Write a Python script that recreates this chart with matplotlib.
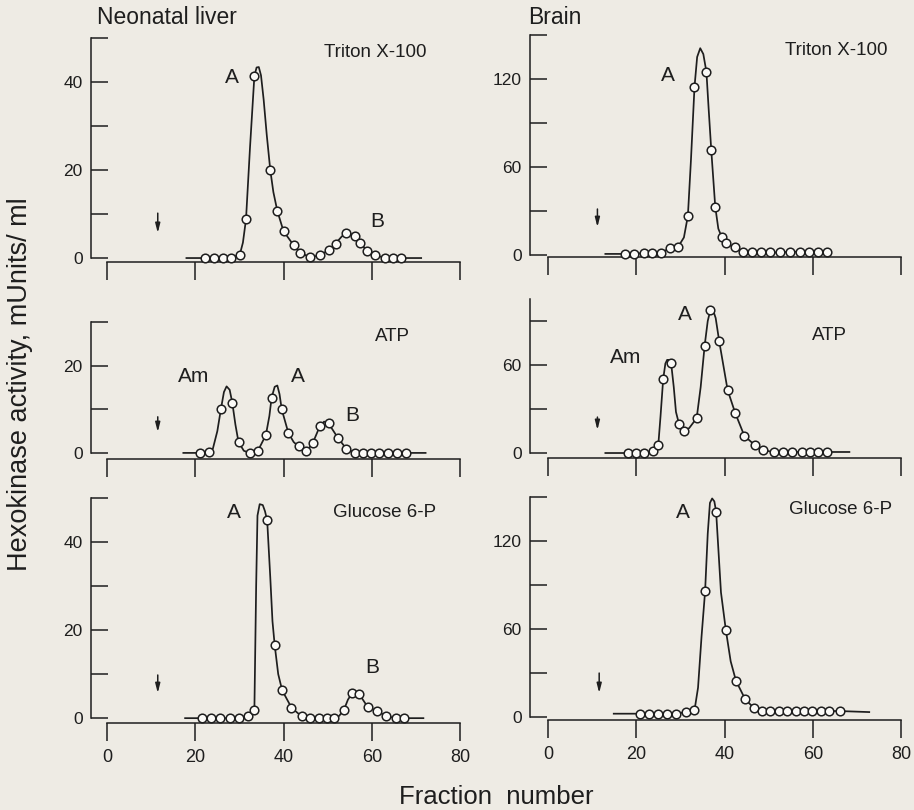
import matplotlib
matplotlib.use('Agg')
import matplotlib.pyplot as plt

plt.rcParams['font.family'] = ['Liberation Sans', 'DejaVu Sans']

# ---------------- data ----------------
fraction_ticks = [0, 20, 40, 60, 80]
fraction_labels = ['0', '20', '40', '60', '80']

# Neonatal liver, Triton X-100
liver_triton_x = [22.1, 24.2, 26.2, 28.2, 30.1, 31.5, 33.4, 37.0, 38.6, 40.0, 42.3, 43.8, 46.0,
                  48.2, 50.4, 51.8, 54.2, 56.1, 57.4, 58.9, 60.8, 62.9, 64.8, 66.6]
liver_triton_y = [0, 0, 0, 0, 0.8, 8.8, 41.4, 20.0, 10.7, 6.1, 2.9, 1.2, 0.2,
                  0.6, 1.9, 3.3, 5.7, 4.9, 3.4, 1.7, 0.6, 0.1, 0, 0]
liver_triton_curve_x = [18.0, 22.1, 24.2, 26.2, 28.2, 30.1, 30.8, 31.5, 32.4, 33.4, 33.9, 34.4, 34.9,
                        35.5, 36.2, 37.0, 37.7, 38.6, 40.0, 42.3, 43.8, 46.0, 48.2, 50.4, 51.8,
                        53.2, 54.2, 55.0, 56.1, 57.4, 58.9, 60.8, 62.9, 64.8, 66.6, 71.2]
liver_triton_curve_y = [0, 0, 0, 0, 0, 0.8, 3.5, 8.8, 25.0, 41.4, 43.3, 43.4, 41.5,
                        36.0, 28.0, 20.0, 15.0, 10.7, 6.1, 2.9, 1.2, 0.2, 0.6, 1.9, 3.3,
                        4.9, 5.7, 5.6, 4.9, 3.4, 1.7, 0.6, 0.1, 0, 0, 0]

# Brain, Triton X-100
brain_triton_x = [17.5, 19.4, 21.8, 23.6, 25.5, 27.6, 29.5, 31.7, 33.2, 35.9, 37.0, 37.9, 39.4,
                  40.4, 42.3, 44.2, 46.3, 48.3, 50.4, 52.6, 54.9, 57.0, 59.1, 61.2, 63.3]
brain_triton_y = [0.8, 0.8, 1.5, 1.5, 1.5, 4.6, 5.7, 26.7, 114.6, 124.9, 71.5, 33.0, 12.1,
                  8.0, 5.2, 1.8, 1.8, 1.8, 1.8, 1.8, 2.3, 2.3, 2.3, 2.3, 2.3]
brain_triton_curve_x = [13.0, 17.5, 19.4, 21.8, 23.6, 25.5, 27.6, 29.5, 30.8, 31.7, 32.4, 33.2, 33.8,
                        34.5, 35.2, 35.9, 36.4, 37.0, 37.9, 38.6, 39.4, 40.4, 42.3, 44.2, 46.3,
                        48.3, 50.4, 52.6, 54.9, 57.0, 59.1, 61.2, 63.3]
brain_triton_curve_y = [0.8, 0.8, 0.8, 1.5, 1.5, 1.5, 4.6, 5.7, 12.0, 26.7, 65.0, 114.6, 135.0,
                        141.0, 137.0, 124.9, 100.0, 71.5, 33.0, 18.0, 12.1, 8.0, 5.2, 1.8, 1.8,
                        1.8, 1.8, 1.8, 2.3, 2.3, 2.3, 2.3, 2.3]

# Neonatal liver, ATP
liver_atp_x = [21.0, 23.1, 25.8, 28.4, 29.8, 32.3, 34.2, 36.0, 37.3, 39.6, 41.1, 43.4, 45.2,
               46.6, 48.3, 50.2, 52.3, 54.2, 56.1, 58.0, 59.8, 61.7, 63.6, 65.7, 67.7]
liver_atp_y = [0, 0.2, 10.0, 11.5, 2.5, 0, 0.5, 4.1, 12.7, 10.0, 4.6, 1.5, 0.4,
               2.2, 6.3, 6.8, 3.5, 1.0, 0, 0, 0, 0, 0, 0, 0]
liver_atp_curve_x = [17.3, 21.0, 23.1, 24.0, 25.0, 25.8, 26.5, 27.1, 27.8, 28.4, 29.1, 29.8, 31.0,
                     32.3, 34.2, 36.0, 36.8, 37.3, 38.0, 38.6, 39.1, 39.6, 41.1, 42.3, 43.4,
                     45.2, 46.6, 48.3, 49.2, 50.2, 52.3, 54.2, 56.1, 58.0, 59.8, 61.7, 63.6,
                     65.7, 67.7, 72.2]
liver_atp_curve_y = [0, 0, 0.2, 1.0, 5.0, 10.0, 14.0, 15.3, 14.5, 11.5, 6.5, 2.5, 0.5,
                     0, 0.5, 4.1, 8.5, 12.7, 15.2, 15.5, 13.5, 10.0, 4.6, 2.5, 1.5,
                     0.4, 2.2, 6.3, 7.2, 6.8, 3.5, 1.0, 0, 0, 0, 0, 0,
                     0, 0, 0]

# Brain, ATP
brain_atp_x = [18.2, 20.0, 21.8, 23.7, 25.0, 26.1, 27.9, 29.7, 30.9, 33.7, 35.5, 36.8, 38.8,
               40.7, 42.4, 44.5, 46.9, 48.8, 51.2, 53.3, 55.4, 57.5, 59.4, 61.3, 63.2]
brain_atp_y = [0, 0, 0, 1.1, 5.7, 50.3, 61.3, 19.7, 14.9, 24.0, 73.2, 97.5, 76.2,
               43.0, 27.5, 11.7, 5.3, 1.8, 0.7, 0.7, 0.7, 0.7, 0.7, 0.7, 0.7]
brain_atp_curve_x = [13.0, 18.2, 20.0, 21.8, 23.7, 25.0, 25.5, 26.1, 26.6, 27.0, 27.5, 27.9, 28.5,
                     29.0, 29.7, 30.3, 30.9, 32.0, 33.0, 33.7, 34.6, 35.5, 36.2, 36.8, 37.4,
                     38.0, 38.8, 40.7, 42.4, 44.5, 46.9, 48.8, 51.2, 53.3, 55.4, 57.5, 59.4,
                     61.3, 63.2, 68.3]
brain_atp_curve_y = [0, 0, 0, 0, 1.1, 5.7, 25.0, 50.3, 61.0, 63.5, 63.5, 61.3, 45.0,
                     28.0, 19.7, 16.0, 14.9, 17.0, 21.0, 24.0, 45.0, 73.2, 90.0, 97.5, 97.5,
                     92.0, 76.2, 43.0, 27.5, 11.7, 5.3, 1.8, 0.7, 0.7, 0.7, 0.7, 0.7,
                     0.7, 0.7, 0.7]

# Neonatal liver, Glucose 6-P
liver_g6p_x = [21.6, 23.6, 25.7, 27.8, 29.9, 31.9, 33.4, 36.3, 38.0, 39.7, 41.8, 44.1, 46.0,
               48.0, 49.8, 51.4, 53.7, 55.5, 57.2, 59.1, 61.2, 63.2, 65.4, 67.4]
liver_g6p_y = [0, 0, 0, 0, 0, 0.6, 1.9, 44.9, 16.6, 6.3, 2.4, 0.4, 0,
               0, 0, 0, 1.9, 5.6, 5.4, 2.5, 1.6, 0.5, 0, 0]
liver_g6p_curve_x = [17.7, 21.6, 23.6, 25.7, 27.8, 29.9, 31.9, 33.4, 33.8, 34.1, 34.6, 35.3, 35.8,
                     36.3, 37.0, 37.5, 38.0, 38.8, 39.7, 41.8, 44.1, 46.0, 48.0, 49.8, 51.4,
                     52.6, 53.7, 54.6, 55.5, 56.4, 57.2, 59.1, 61.2, 63.2, 65.4, 67.4, 71.7]
liver_g6p_curve_y = [0, 0, 0, 0, 0, 0, 0.6, 1.9, 30.0, 46.0, 48.6, 48.4, 47.0,
                     44.9, 32.0, 22.0, 16.6, 10.0, 6.3, 2.4, 0.4, 0, 0, 0, 0,
                     0.5, 1.9, 4.2, 5.6, 5.8, 5.4, 2.5, 1.6, 0.5, 0, 0, 0]

# Brain, Glucose 6-P
brain_g6p_x = [20.8, 22.9, 25.0, 27.0, 29.0, 31.3, 33.2, 35.6, 38.1, 40.3, 42.6, 44.7, 46.6,
               48.5, 50.4, 52.3, 54.2, 56.1, 58.0, 59.9, 61.8, 63.7, 66.1]
brain_g6p_y = [2.3, 2.3, 2.3, 1.8, 2.3, 3.4, 4.6, 85.6, 140.0, 59.4, 24.7, 12.1, 6.4,
               4.1, 4.1, 4.1, 4.1, 4.1, 4.1, 4.1, 4.1, 4.1, 4.1]
brain_g6p_curve_x = [14.9, 20.8, 22.9, 25.0, 27.0, 29.0, 31.3, 33.2, 34.0, 34.8, 35.6, 36.2, 36.7,
                     37.2, 37.7, 38.1, 38.6, 39.2, 40.3, 41.4, 42.6, 44.7, 46.6, 48.5, 50.4,
                     52.3, 54.2, 56.1, 58.0, 59.9, 61.8, 63.7, 66.1, 72.8]
brain_g6p_curve_y = [2.3, 2.3, 2.3, 2.3, 1.8, 2.3, 3.4, 4.6, 20.0, 55.0, 85.6, 125.0, 146.0,
                     149.0, 147.0, 140.0, 115.0, 85.0, 59.4, 38.0, 24.7, 12.1, 6.4, 4.1, 4.1,
                     4.1, 4.1, 4.1, 4.1, 4.1, 4.1, 4.1, 4.1, 3.4]

liver_yticks = [0, 10, 20, 30, 40, 50]
liver_yticklabels = ['0', '', '20', '', '40', '']
liver_atp_yticks = [0, 10, 20, 30]
liver_atp_yticklabels = ['0', '', '20', '']
brain_yticks = [0, 30, 60, 90, 120, 150]
brain_yticklabels = ['0', '', '60', '', '120', '']
brain_atp_yticks = [0, 30, 60, 90]
brain_atp_yticklabels = ['0', '', '60', '']

# ---------------- figure ----------------
W, H = 914, 810
BG = '#eeebe4'
INK = '#1e1e1e'

fig = plt.figure(figsize=(W / 100, H / 100), dpi=100, facecolor=BG)


def add_axes_px(left, right, top, bottom):
    return fig.add_axes([left / W, (H - bottom) / H, (right - left) / W, (bottom - top) / H])


LEFT_COL = (91, 460, (-3.63, 80))
RIGHT_COL = (530, 901, (-4.08, 80))

panels = [
    dict(col=LEFT_COL, top=38, bottom=262, ylim=(-0.9, 50), spine_top=50,
         yt=liver_yticks, ytl=liver_yticklabels,
         px=liver_triton_x, py=liver_triton_y, cx=liver_triton_curve_x, cy=liver_triton_curve_y,
         xlabels=False, arrow=(11.5, 10.2, 5.7),
         texts=[('Triton X-100', 60.9, 46.8), ('A', 28.3, 41.1), ('B', 61.2, 8.2)]),
    dict(col=RIGHT_COL, top=35, bottom=257, ylim=(-1.3, 150), spine_top=150,
         yt=brain_yticks, ytl=brain_yticklabels,
         px=brain_triton_x, py=brain_triton_y, cx=brain_triton_curve_x, cy=brain_triton_curve_y,
         xlabels=False, arrow=(11.2, 31.4, 19.1),
         texts=[('Triton X-100', 65.3, 139.7), ('A', 27.2, 122.7)]),
    dict(col=LEFT_COL, top=322, bottom=459, ylim=(-1.4, 30.1), spine_top=30,
         yt=liver_atp_yticks, ytl=liver_atp_yticklabels,
         px=liver_atp_x, py=liver_atp_y, cx=liver_atp_curve_x, cy=liver_atp_curve_y,
         xlabels=False, arrow=(11.5, 8.3, 4.8),
         texts=[('ATP', 64.6, 26.7), ('Am', 19.7, 17.5), ('A', 43.3, 17.5), ('B', 55.6, 8.7)]),
    dict(col=RIGHT_COL, top=299, bottom=458, ylim=(-3.4, 105), spine_top=105,
         yt=brain_atp_yticks, ytl=brain_atp_yticklabels,
         px=brain_atp_x, py=brain_atp_y, cx=brain_atp_curve_x, cy=brain_atp_curve_y,
         xlabels=False, arrow=(11.2, 24.5, 15.7),
         texts=[('ATP', 63.9, 80.4), ('Am', 17.7, 64.8), ('A', 31.1, 94.1)]),
    dict(col=LEFT_COL, top=498, bottom=723, ylim=(-1.1, 50), spine_top=50,
         yt=liver_yticks, ytl=liver_yticklabels,
         px=liver_g6p_x, py=liver_g6p_y, cx=liver_g6p_curve_x, cy=liver_g6p_curve_y,
         xlabels=True, arrow=(11.5, 9.8, 5.7),
         texts=[('Glucose 6-P', 62.8, 46.8), ('A', 28.8, 46.6), ('B', 60.1, 11.6)]),
    dict(col=RIGHT_COL, top=497, bottom=720, ylim=(-2.0, 150), spine_top=150,
         yt=brain_yticks, ytl=brain_yticklabels,
         px=brain_g6p_x, py=brain_g6p_y, cx=brain_g6p_curve_x, cy=brain_g6p_curve_y,
         xlabels=True, arrow=(11.6, 30.0, 16.4),
         texts=[('Glucose 6-P', 66.2, 141.8), ('A', 30.6, 139.7)]),
]

for p in panels:
    left, right, xlim = p['col']
    ax = add_axes_px(left, right, p['top'], p['bottom'])
    ax.set_facecolor('none')
    ax.set_xlim(*xlim)
    ax.set_ylim(*p['ylim'])
    for s in ('top', 'right'):
        ax.spines[s].set_visible(False)
    ax.spines['left'].set_bounds(0, p['spine_top'])
    ax.spines['bottom'].set_bounds(0, 80)
    for s in ('left', 'bottom'):
        ax.spines[s].set_linewidth(1.1)
        ax.spines[s].set_color(INK)

    ax.set_yticks(p['yt'])
    ax.set_yticklabels(p['ytl'])
    ax.set_xticks(fraction_ticks)
    ax.set_xticklabels(fraction_labels if p['xlabels'] else [''] * len(fraction_ticks))
    ax.tick_params(axis='y', direction='in', length=12, width=1.1, pad=6,
                   labelsize=12.5, colors=INK)
    ax.tick_params(axis='x', direction='out', length=13, width=1.1, pad=6,
                   labelsize=13, colors=INK)

    ax.plot(p['cx'], p['cy'], color=INK, lw=1.25, zorder=2, clip_on=False,
            solid_joinstyle='round')
    ax.plot(p['px'], p['py'], linestyle='none', marker='o', markersize=6.2,
            markerfacecolor='#fbfaf7', markeredgecolor=INK, markeredgewidth=1.1,
            zorder=3, clip_on=False)

    ax_x, y_top, y_bot = p['arrow']
    ax.annotate('', xy=(ax_x, y_bot), xytext=(ax_x, y_top),
                arrowprops=dict(arrowstyle='-|>,head_length=0.55,head_width=0.14',
                                lw=1.1, color=INK, shrinkA=0, shrinkB=0))

    for txt, tx, ty in p['texts']:
        size = 13.5 if len(txt) > 3 else (13.5 if txt == 'ATP' else 15)
        ax.text(tx, ty, txt, ha='center', va='center', fontsize=size, color=INK)

fig.text(97 / W, 1 - 18 / H, 'Neonatal liver', ha='left', va='center', fontsize=16.5, color=INK)
fig.text(528 / W, 1 - 18 / H, 'Brain', ha='left', va='center', fontsize=16.5, color=INK)
fig.text(20 / W, 1 - 384 / H, 'Hexokinase activity, mUnits/ ml', ha='center', va='center',
         rotation=90, fontsize=19.5, color=INK)
fig.text(496 / W, 1 - 797 / H, 'Fraction  number', ha='center', va='center',
         fontsize=18.5, color=INK)

fig.savefig('out.png', dpi=100, facecolor=BG)
